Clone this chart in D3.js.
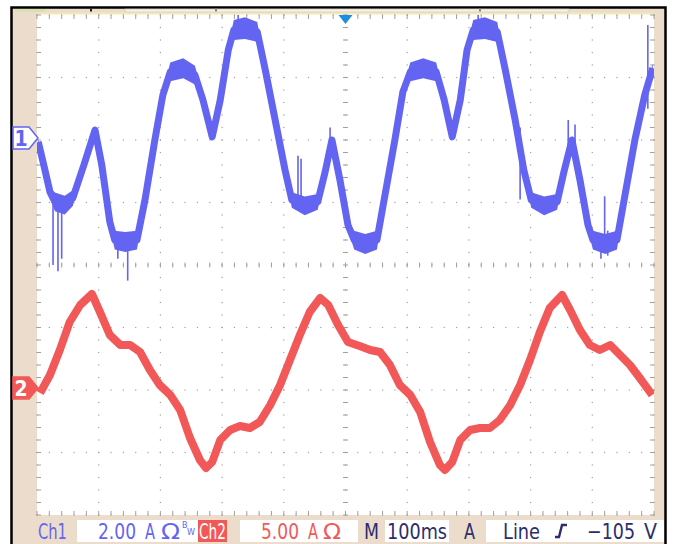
<!DOCTYPE html>
<html>
<head>
<meta charset="utf-8">
<script src="https://cdn.jsdelivr.net/npm/d3@7"></script>
<style>
  html, body { margin: 0; padding: 0; background: #ffffff; }
  svg { display: block; }
</style>
</head>
<body>
<svg id="scope" width="674" height="544"></svg>
<script>
// Channel 1 trace: [time ms, current A, noise half-width A]
const ch1Trace = [
  [2,-0.06,0.1],[11,-0.80,0.1],[21,-1.66,0.15],[29,-1.98,0.3],[45,-2.08,0.3],[58,-1.86,0.25],
  [76,-0.80,0.1],[94,0.32,0.1],[105,-0.80,0.1],[118,-2.62,0.15],[126,-3.20,0.3],[143,-3.26,0.32],
  [162,-3.20,0.3],[175,-1.92,0.1],[191,0,0.1],[204,1.44,0.12],[216,2.18,0.3],[237,2.30,0.32],
  [256,2.08,0.3],[269,1.28,0.12],[284,0.10,0.1],[297,1.28,0.1],[310,2.88,0.15],[319,3.52,0.32],
  [337,3.58,0.35],[357,3.46,0.32],[370,2.24,0.12],[386,0.64,0.1],[402,-0.96,0.1],[413,-1.92,0.25],
  [434,-2.11,0.3],[455,-1.98,0.25],[467,-1.02,0.1],[478,0,0.1],[491,-1.28,0.1],[504,-2.72,0.15],
  [514,-3.20,0.3],[532,-3.33,0.32],[551,-3.20,0.3],[564,-1.76,0.1],[580,0,0.1],[593,1.54,0.12],
  [605,2.18,0.3],[626,2.30,0.32],[647,2.18,0.3],[660,1.28,0.12],[673,0.10,0.1],[686,1.28,0.1],
  [697,2.88,0.15],[707,3.52,0.32],[726,3.58,0.35],[746,3.46,0.32],[759,2.24,0.12],[775,0.64,0.1],
  [789,-0.96,0.1],[801,-1.92,0.25],[822,-2.11,0.3],[843,-1.98,0.25],[854,-1.02,0.1],[867,0,0.1],
  [880,-1.28,0.1],[893,-2.72,0.15],[901,-3.20,0.3],[921,-3.33,0.32],[940,-3.20,0.3],[953,-1.76,0.1],
  [969,0,0.1],[985,1.44,0.1],[998,2.30,0.15]
];

// Channel 1 glitches: [time ms, from A, to A]
const ch1Spikes = [
  [26,-1.9,-4.0],[34,-2.0,-4.2],[40,-2.0,-3.8],[131,-3.1,-3.8],[147,-3.2,-4.5],
  [326,3.5,4.0],[423,-1.9,-0.5],[428,-2.0,-0.6],[475,-0.3,0.4],[715,3.5,4.0],
  [783,0.4,-1.9],[861,-0.6,0.64],[872,-0.6,0.5],[914,-3.2,-3.8],[920,-3.1,-1.8],
  [925,-2.9,-3.7],[990,1.0,3.68]
];

// Channel 2 trace: [time ms, current A]
const ch2Trace = [
  [5,-0.24],[21,1.20],[37,3.20],[53,5.44],[70,6.80],[89,7.68],[102,6.24],[118,4.40],[135,3.60],
  [151,3.60],[167,3.04],[183,1.60],[199,0.40],[216,-0.40],[232,-1.60],[248,-3.84],[264,-5.60],
  [274,-6.24],[284,-5.76],[297,-4.00],[313,-3.20],[329,-2.88],[345,-3.04],[361,-2.56],[378,-1.20],
  [394,0.40],[410,2.40],[426,4.40],[442,6.24],[459,7.36],[472,6.80],[488,5.20],[504,3.84],
  [523,3.52],[540,3.20],[556,3.04],[572,2.00],[588,0.40],[605,-0.40],[621,-1.76],[637,-4.16],
  [653,-6.00],[661,-6.40],[673,-5.76],[686,-4.00],[702,-3.20],[718,-3.04],[734,-3.04],[750,-2.40],
  [767,-1.20],[783,0.40],[799,2.40],[815,4.64],[831,6.56],[851,7.60],[864,6.40],[880,4.80],
  [896,3.60],[912,3.20],[929,3.60],[945,2.80],[961,2.00],[977,0.96],[997,-0.40]
];

// Readout bar: [text, left x, width, colour key]
const readout = [
  ["Ch1", 38, 29, "c1"], ["2.00", 98, 38, "c1"], ["A", 145, 10, "c1"], ["Ω", 161, 19, "c1"],
  ["Ch2", 199, 27, "w"], ["5.00", 261, 38, "c2"], ["A", 308, 10, "c2"], ["Ω", 323, 18, "c2"],
  ["M", 364, 15, "n"], ["100ms", 387, 60, "n"], ["A", 464, 11, "n"], ["Line", 503, 37, "n"],
  ["−105", 587, 48, "n"], ["V", 644, 13, "n"]
];

const svg = d3.select("#scope");
const beige = "#ecdccb", blue = "#6464f2", red = "#f25858", gridC = "#a0a0a0", navy = "#2c2c6e";
const font = "'DejaVu Sans Condensed','Liberation Sans',sans-serif";
const colours = { c1: blue, c2: red, w: "#fff", n: navy };

// frame
svg.append("rect").attr("x", 11).attr("y", 7).attr("width", 655).attr("height", 540).attr("fill", beige);
svg.append("path").attr("d", "M11.5,548V7.5H665.5V548").attr("fill", "none").attr("stroke", "#000").attr("stroke-width", 2.5);

// graticule scales (divisions)
const L = 37, R = 654, T = 15, B = 515;
const gx = d3.scaleLinear().domain([0, 10]).range([L, R]);
const gy = d3.scaleLinear().domain([0, 8]).range([T, B]);

// data scales: 1 s across, Ch1 2 A/div, Ch2 5 A/div
const x = d3.scaleLinear().domain([0, 1000]).range([L, R]);
const y1 = d3.scaleLinear().domain([-12, 4]).range([B, T]);
const y2 = d3.scaleLinear().domain([-10, 30]).range([B, T]);

// record-length bar above the screen
svg.append("rect").attr("x", 125).attr("y", 9).attr("width", 444).attr("height", 3).attr("fill", "#f6f2ea").attr("stroke", "#c8c0b0").attr("stroke-width", 0.6);
svg.append("rect").attr("x", 15).attr("y", 9).attr("width", 30).attr("height", 3).attr("fill", "#d8e0b0");
[[91, "#222"], [216, "#888"], [480, "#888"]].forEach(([px, c]) =>
  svg.append("rect").attr("x", px - 1).attr("y", 8.5).attr("width", 2).attr("height", 3).attr("fill", c));

// screen
svg.append("rect").attr("x", L).attr("y", T - 2).attr("width", R - L).attr("height", B - T + 2).attr("fill", "#fff");
svg.append("line").attr("x1", L).attr("x2", R).attr("y1", T - 1.5).attr("y2", T - 1.5).attr("stroke", "#f0eab8").attr("stroke-width", 2);

const grid = svg.append("g").attr("fill", gridC);
// dotted grid lines at each division, dots at each minor division
for (let i = 0; i <= 10; i++) {
  for (let j = 0; j <= 40; j++) {
    grid.append("rect").attr("x", gx(i) - 0.6).attr("y", gy(j / 5) - 0.6).attr("width", 1.2).attr("height", 1.2);
  }
}
for (let j = 0; j <= 8; j++) {
  for (let i = 0; i <= 50; i++) {
    grid.append("rect").attr("x", gx(i / 5) - 0.6).attr("y", gy(j) - 0.6).attr("width", 1.2).attr("height", 1.2);
  }
}
// minor ticks on centre lines and edges
const tk = svg.append("g").attr("stroke", gridC).attr("stroke-width", 1);
for (let i = 0; i <= 50; i++) {
  const px = gx(i / 5);
  tk.append("line").attr("x1", px).attr("x2", px).attr("y1", gy(4) - 2.5).attr("y2", gy(4) + 2.5);
  tk.append("line").attr("x1", px).attr("x2", px).attr("y1", T).attr("y2", T + 4);
  tk.append("line").attr("x1", px).attr("x2", px).attr("y1", B - 4).attr("y2", B);
}
for (let j = 0; j <= 40; j++) {
  const py = gy(j / 5);
  tk.append("line").attr("x1", gx(5) - 2.5).attr("x2", gx(5) + 2.5).attr("y1", py).attr("y2", py);
  tk.append("line").attr("x1", L).attr("x2", L + 4).attr("y1", py).attr("y2", py);
  tk.append("line").attr("x1", R - 4).attr("x2", R).attr("y1", py).attr("y2", py);
}

// traces
svg.append("clipPath").attr("id", "scr").append("rect").attr("x", L).attr("y", T).attr("width", R - L).attr("height", B - T);
const traces = svg.append("g").attr("clip-path", "url(#scr)");

const band1 = d3.area().x(d => x(d[0])).y0(d => y1(d[1] - d[2])).y1(d => y1(d[1] + d[2]));
traces.append("path").datum(ch1Trace).attr("d", band1).attr("fill", blue);
traces.append("path").datum(ch1Trace)
  .attr("d", d3.line().x(d => x(d[0])).y(d => y1(d[1])))
  .attr("fill", "none").attr("stroke", blue).attr("stroke-width", 7).attr("stroke-linejoin", "round");
traces.selectAll(".spk").data(ch1Spikes).join("line")
  .attr("x1", d => x(d[0])).attr("x2", d => x(d[0]))
  .attr("y1", d => y1(d[1])).attr("y2", d => y1(d[2]))
  .attr("stroke", blue).attr("stroke-width", 1.6);

traces.append("path").datum(ch2Trace)
  .attr("d", d3.line().x(d => x(d[0])).y(d => y2(d[1])))
  .attr("fill", "none").attr("stroke", red).attr("stroke-width", 8).attr("stroke-linejoin", "round");

// trigger position marker
const tx = x(500);
svg.append("path").attr("d", `M${tx - 7},${T}L${tx + 7},${T}L${tx},${T + 9}Z`).attr("fill", "#1e8ce0");

// channel ground markers
function marker(cy, label, color, filled) {
  const g = svg.append("g");
  g.append("path")
    .attr("d", `M13,${cy - 11}H29L38,${cy}L29,${cy + 11}H13Z`)
    .attr("fill", filled ? color : "#fff").attr("stroke", color).attr("stroke-width", 1.5);
  g.append("text").attr("x", 21).attr("y", cy + 7.5).attr("text-anchor", "middle")
    .attr("font-family", font).attr("font-size", 21).attr("font-weight", "bold")
    .attr("fill", filled ? "#fff" : color).text(label);
}
marker(y1(0) - 2, "1", blue, false);
marker(y2(0) - 2, "2", red, true);

// readout boxes
const rb = svg.append("g").attr("font-family", font).attr("font-size", 21);
[[77, 121, "#fff"], [198, 29, red], [240, 118, "#fff"], [385, 64, "#fff"], [486, 178, "#fff"]].forEach(([bx, bw, c]) =>
  rb.append("rect").attr("x", bx).attr("y", 520).attr("width", bw).attr("height", 22).attr("fill", c));
rb.selectAll(".ro").data(readout).join("text")
  .attr("x", d => d[1]).attr("y", 539)
  .attr("textLength", d => d[2]).attr("lengthAdjust", "spacingAndGlyphs")
  .attr("fill", d => colours[d[3]]).text(d => d[0]);
rb.append("text").attr("x", 182).attr("y", 528).attr("fill", blue).attr("font-size", 9).text("B");
rb.append("text").attr("x", 187).attr("y", 535).attr("fill", blue).attr("font-size", 9).text("W");
// rising-edge trigger slope symbol
rb.append("path").attr("d", "M555,537H559L562,525H567").attr("fill", "none").attr("stroke", navy).attr("stroke-width", 2.4);
</script>
</body>
</html>
